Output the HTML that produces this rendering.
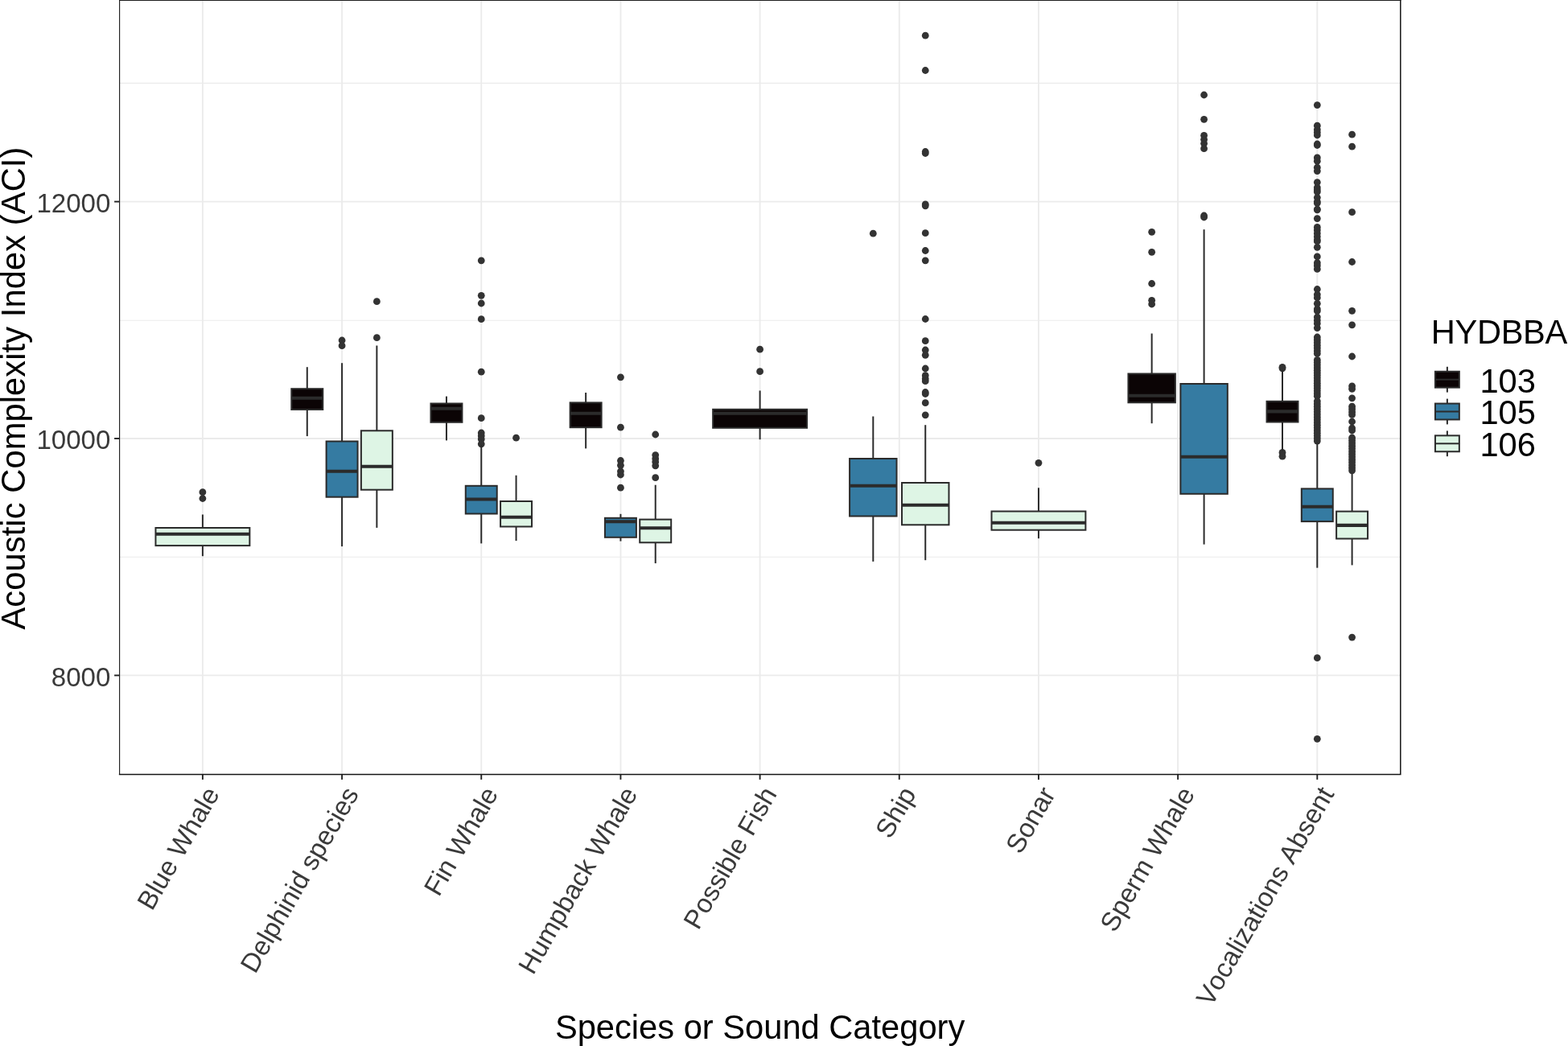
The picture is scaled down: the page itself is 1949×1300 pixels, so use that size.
<!DOCTYPE html>
<html lang="en"><head><meta charset="utf-8">
<title>Acoustic Complexity Index by Species or Sound Category</title>
<style>
html,body{margin:0;padding:0;background:#fff;}
body{width:1949px;height:1300px;overflow:hidden;}
svg{display:block;}
text{font-family:"Liberation Sans",Arial,Helvetica,sans-serif;font-kerning:none;font-variant-ligatures:none;}
.ax{font-size:33.1px;fill:#3A3A3A;}
.ti{font-size:41.67px;fill:#000;}
</style></head><body>
<svg width="1949" height="1300" viewBox="0 0 1949 1300" role="img" aria-label="Boxplot of Acoustic Complexity Index by species or sound category">
<rect x="0" y="0" width="1949" height="1300" fill="#fff"/>
<g stroke="#EBEBEB" fill="none">
<line x1="148" y1="103.4" x2="1741.2" y2="103.4" stroke-width="1.1"/>
<line x1="148" y1="398.3" x2="1741.2" y2="398.3" stroke-width="1.1"/>
<line x1="148" y1="692.2" x2="1741.2" y2="692.2" stroke-width="1.1"/>
<line x1="148" y1="250.6" x2="1741.2" y2="250.6" stroke-width="1.9"/>
<line x1="148" y1="545" x2="1741.2" y2="545" stroke-width="1.9"/>
<line x1="148" y1="839.4" x2="1741.2" y2="839.4" stroke-width="1.9"/>
<line x1="251.9" y1="0" x2="251.9" y2="963" stroke-width="1.9"/>
<line x1="425.08" y1="0" x2="425.08" y2="963" stroke-width="1.9"/>
<line x1="598.25" y1="0" x2="598.25" y2="963" stroke-width="1.9"/>
<line x1="771.43" y1="0" x2="771.43" y2="963" stroke-width="1.9"/>
<line x1="944.6" y1="0" x2="944.6" y2="963" stroke-width="1.9"/>
<line x1="1117.77" y1="0" x2="1117.77" y2="963" stroke-width="1.9"/>
<line x1="1290.95" y1="0" x2="1290.95" y2="963" stroke-width="1.9"/>
<line x1="1464.12" y1="0" x2="1464.12" y2="963" stroke-width="1.9"/>
<line x1="1637.3" y1="0" x2="1637.3" y2="963" stroke-width="1.9"/>
</g>
<g>
<g fill="#333333">
<circle cx="251.9" cy="611.7" r="4.4"/>
<circle cx="251.9" cy="619.5" r="4.4"/>
</g>
<g stroke="#2B2B2B" stroke-width="2" fill="none">
<line x1="251.9" y1="639.5" x2="251.9" y2="656"/>
<line x1="251.9" y1="678.1" x2="251.9" y2="691.2"/>
<rect x="193.46" y="656" width="116.89" height="22.1" fill="#DEF5E5" stroke-linejoin="miter"/>
<line x1="193.46" y1="663.7" x2="310.35" y2="663.7" stroke-width="4.1"/>
</g></g>
<g>
<g stroke="#2B2B2B" stroke-width="2" fill="none">
<line x1="381.78" y1="456.2" x2="381.78" y2="483.2"/>
<line x1="381.78" y1="509" x2="381.78" y2="542.1"/>
<rect x="362.3" y="483.2" width="38.96" height="25.8" fill="#0B0405" stroke-linejoin="miter"/>
<line x1="362.3" y1="494.7" x2="401.27" y2="494.7" stroke-width="4.1"/>
</g></g>
<g>
<g fill="#333333">
<circle cx="425.08" cy="423" r="4.4"/>
<circle cx="425.08" cy="429.7" r="4.4"/>
</g>
<g stroke="#2B2B2B" stroke-width="2" fill="none">
<line x1="425.08" y1="451.2" x2="425.08" y2="548.5"/>
<line x1="425.08" y1="617.7" x2="425.08" y2="679.1"/>
<rect x="405.6" y="548.5" width="38.96" height="69.2" fill="#357BA2" stroke-linejoin="miter"/>
<line x1="405.6" y1="585.8" x2="444.56" y2="585.8" stroke-width="4.1"/>
</g></g>
<g>
<g fill="#333333">
<circle cx="468.37" cy="374.7" r="4.4"/>
<circle cx="468.37" cy="419.7" r="4.4"/>
</g>
<g stroke="#2B2B2B" stroke-width="2" fill="none">
<line x1="468.37" y1="429.5" x2="468.37" y2="535.3"/>
<line x1="468.37" y1="608.7" x2="468.37" y2="655.9"/>
<rect x="448.89" y="535.3" width="38.96" height="73.4" fill="#DEF5E5" stroke-linejoin="miter"/>
<line x1="448.89" y1="579.8" x2="487.85" y2="579.8" stroke-width="4.1"/>
</g></g>
<g>
<g stroke="#2B2B2B" stroke-width="2" fill="none">
<line x1="554.96" y1="492.6" x2="554.96" y2="501.5"/>
<line x1="554.96" y1="524.8" x2="554.96" y2="547.4"/>
<rect x="535.48" y="501.5" width="38.96" height="23.3" fill="#0B0405" stroke-linejoin="miter"/>
<line x1="535.48" y1="507.8" x2="574.44" y2="507.8" stroke-width="4.1"/>
</g></g>
<g>
<g fill="#333333">
<circle cx="598.25" cy="323.8" r="4.4"/>
<circle cx="598.25" cy="367.3" r="4.4"/>
<circle cx="598.25" cy="377" r="4.4"/>
<circle cx="598.25" cy="396.7" r="4.4"/>
<circle cx="598.25" cy="462.2" r="4.4"/>
<circle cx="598.25" cy="519.7" r="4.4"/>
<circle cx="598.25" cy="538" r="4.4"/>
<circle cx="598.25" cy="541.7" r="4.4"/>
<circle cx="598.25" cy="545.8" r="4.4"/>
<circle cx="598.25" cy="551.8" r="4.4"/>
</g>
<g stroke="#2B2B2B" stroke-width="2" fill="none">
<line x1="598.25" y1="553" x2="598.25" y2="603.8"/>
<line x1="598.25" y1="638.5" x2="598.25" y2="675.4"/>
<rect x="578.77" y="603.8" width="38.96" height="34.7" fill="#357BA2" stroke-linejoin="miter"/>
<line x1="578.77" y1="620.5" x2="617.73" y2="620.5" stroke-width="4.1"/>
</g></g>
<g>
<g fill="#333333">
<circle cx="641.55" cy="544.2" r="4.4"/>
</g>
<g stroke="#2B2B2B" stroke-width="2" fill="none">
<line x1="641.55" y1="590.8" x2="641.55" y2="623"/>
<line x1="641.55" y1="654.5" x2="641.55" y2="672.1"/>
<rect x="622.06" y="623" width="38.96" height="31.5" fill="#DEF5E5" stroke-linejoin="miter"/>
<line x1="622.06" y1="642.7" x2="661.03" y2="642.7" stroke-width="4.1"/>
</g></g>
<g>
<g stroke="#2B2B2B" stroke-width="2" fill="none">
<line x1="728.13" y1="488" x2="728.13" y2="500.4"/>
<line x1="728.13" y1="531.2" x2="728.13" y2="557.4"/>
<rect x="708.65" y="500.4" width="38.96" height="30.8" fill="#0B0405" stroke-linejoin="miter"/>
<line x1="708.65" y1="513.7" x2="747.61" y2="513.7" stroke-width="4.1"/>
</g></g>
<g>
<g fill="#333333">
<circle cx="771.43" cy="468.8" r="4.4"/>
<circle cx="771.43" cy="531.2" r="4.4"/>
<circle cx="771.43" cy="572.5" r="4.4"/>
<circle cx="771.43" cy="578.3" r="4.4"/>
<circle cx="771.43" cy="585.8" r="4.4"/>
<circle cx="771.43" cy="590" r="4.4"/>
<circle cx="771.43" cy="606.2" r="4.4"/>
</g>
<g stroke="#2B2B2B" stroke-width="2" fill="none">
<line x1="771.43" y1="638.8" x2="771.43" y2="643.8"/>
<line x1="771.43" y1="667.8" x2="771.43" y2="672.6"/>
<rect x="751.94" y="643.8" width="38.96" height="24" fill="#357BA2" stroke-linejoin="miter"/>
<line x1="751.94" y1="648.3" x2="790.91" y2="648.3" stroke-width="4.1"/>
</g></g>
<g>
<g fill="#333333">
<circle cx="814.72" cy="540" r="4.4"/>
<circle cx="814.72" cy="565.6" r="4.4"/>
<circle cx="814.72" cy="570" r="4.4"/>
<circle cx="814.72" cy="574" r="4.4"/>
<circle cx="814.72" cy="578.8" r="4.4"/>
<circle cx="814.72" cy="593.7" r="4.4"/>
</g>
<g stroke="#2B2B2B" stroke-width="2" fill="none">
<line x1="814.72" y1="602.7" x2="814.72" y2="645.6"/>
<line x1="814.72" y1="674.3" x2="814.72" y2="700.1"/>
<rect x="795.24" y="645.6" width="38.96" height="28.7" fill="#DEF5E5" stroke-linejoin="miter"/>
<line x1="795.24" y1="656.3" x2="834.2" y2="656.3" stroke-width="4.1"/>
</g></g>
<g>
<g fill="#333333">
<circle cx="944.6" cy="434.2" r="4.4"/>
<circle cx="944.6" cy="461.7" r="4.4"/>
</g>
<g stroke="#2B2B2B" stroke-width="2" fill="none">
<line x1="944.6" y1="485.5" x2="944.6" y2="508.8"/>
<line x1="944.6" y1="531.8" x2="944.6" y2="546.2"/>
<rect x="886.15" y="508.8" width="116.89" height="23" fill="#0B0405" stroke-linejoin="miter"/>
<line x1="886.15" y1="513.8" x2="1003.05" y2="513.8" stroke-width="4.1"/>
</g></g>
<g>
<g fill="#333333">
<circle cx="1085.3" cy="290.2" r="4.4"/>
</g>
<g stroke="#2B2B2B" stroke-width="2" fill="none">
<line x1="1085.3" y1="517.5" x2="1085.3" y2="570"/>
<line x1="1085.3" y1="641.5" x2="1085.3" y2="697.9"/>
<rect x="1056.08" y="570" width="58.45" height="71.5" fill="#357BA2" stroke-linejoin="miter"/>
<line x1="1056.08" y1="603.8" x2="1114.53" y2="603.8" stroke-width="4.1"/>
</g></g>
<g>
<g fill="#333333">
<circle cx="1150.24" cy="44.2" r="4.4"/>
<circle cx="1150.24" cy="87.5" r="4.4"/>
<circle cx="1150.24" cy="188.5" r="4.4"/>
<circle cx="1150.24" cy="190.5" r="4.4"/>
<circle cx="1150.24" cy="253.8" r="4.4"/>
<circle cx="1150.24" cy="255.8" r="4.4"/>
<circle cx="1150.24" cy="289.7" r="4.4"/>
<circle cx="1150.24" cy="311.5" r="4.4"/>
<circle cx="1150.24" cy="323.8" r="4.4"/>
<circle cx="1150.24" cy="396.5" r="4.4"/>
<circle cx="1150.24" cy="423.7" r="4.4"/>
<circle cx="1150.24" cy="435" r="4.4"/>
<circle cx="1150.24" cy="441.3" r="4.4"/>
<circle cx="1150.24" cy="458" r="4.4"/>
<circle cx="1150.24" cy="466.7" r="4.4"/>
<circle cx="1150.24" cy="470.8" r="4.4"/>
<circle cx="1150.24" cy="473.7" r="4.4"/>
<circle cx="1150.24" cy="487.5" r="4.4"/>
<circle cx="1150.24" cy="489.5" r="4.4"/>
<circle cx="1150.24" cy="500.7" r="4.4"/>
<circle cx="1150.24" cy="515.8" r="4.4"/>
</g>
<g stroke="#2B2B2B" stroke-width="2" fill="none">
<line x1="1150.24" y1="528.2" x2="1150.24" y2="600"/>
<line x1="1150.24" y1="652.3" x2="1150.24" y2="696.2"/>
<rect x="1121.02" y="600" width="58.45" height="52.3" fill="#DEF5E5" stroke-linejoin="miter"/>
<line x1="1121.02" y1="627.7" x2="1179.47" y2="627.7" stroke-width="4.1"/>
</g></g>
<g>
<g fill="#333333">
<circle cx="1290.95" cy="575.3" r="4.4"/>
</g>
<g stroke="#2B2B2B" stroke-width="2" fill="none">
<line x1="1290.95" y1="606.3" x2="1290.95" y2="635.5"/>
<line x1="1290.95" y1="658.7" x2="1290.95" y2="669.2"/>
<rect x="1232.5" y="635.5" width="116.89" height="23.2" fill="#DEF5E5" stroke-linejoin="miter"/>
<line x1="1232.5" y1="649.7" x2="1349.39" y2="649.7" stroke-width="4.1"/>
</g></g>
<g>
<g fill="#333333">
<circle cx="1431.65" cy="288.3" r="4.4"/>
<circle cx="1431.65" cy="313.3" r="4.4"/>
<circle cx="1431.65" cy="352.5" r="4.4"/>
<circle cx="1431.65" cy="373.3" r="4.4"/>
<circle cx="1431.65" cy="378" r="4.4"/>
</g>
<g stroke="#2B2B2B" stroke-width="2" fill="none">
<line x1="1431.65" y1="414.5" x2="1431.65" y2="464.5"/>
<line x1="1431.65" y1="500.3" x2="1431.65" y2="526.2"/>
<rect x="1402.43" y="464.5" width="58.45" height="35.8" fill="#0B0405" stroke-linejoin="miter"/>
<line x1="1402.43" y1="491.7" x2="1460.87" y2="491.7" stroke-width="4.1"/>
</g></g>
<g>
<g fill="#333333">
<circle cx="1496.59" cy="118" r="4.4"/>
<circle cx="1496.59" cy="148.3" r="4.4"/>
<circle cx="1496.59" cy="168.3" r="4.4"/>
<circle cx="1496.59" cy="173.3" r="4.4"/>
<circle cx="1496.59" cy="178.3" r="4.4"/>
<circle cx="1496.59" cy="184.7" r="4.4"/>
<circle cx="1496.59" cy="268" r="4.4"/>
<circle cx="1496.59" cy="270" r="4.4"/>
</g>
<g stroke="#2B2B2B" stroke-width="2" fill="none">
<line x1="1496.59" y1="285.2" x2="1496.59" y2="477"/>
<line x1="1496.59" y1="613.8" x2="1496.59" y2="676.6"/>
<rect x="1467.37" y="477" width="58.45" height="136.8" fill="#357BA2" stroke-linejoin="miter"/>
<line x1="1467.37" y1="567.7" x2="1525.81" y2="567.7" stroke-width="4.1"/>
</g></g>
<g>
<g fill="#333333">
<circle cx="1594" cy="456.3" r="4.4"/>
<circle cx="1594" cy="457.8" r="4.4"/>
<circle cx="1594" cy="562.4" r="4.4"/>
<circle cx="1594" cy="567.2" r="4.4"/>
</g>
<g stroke="#2B2B2B" stroke-width="2" fill="none">
<line x1="1594" y1="460" x2="1594" y2="498.8"/>
<line x1="1594" y1="524.5" x2="1594" y2="560.4"/>
<rect x="1574.52" y="498.8" width="38.96" height="25.7" fill="#0B0405" stroke-linejoin="miter"/>
<line x1="1574.52" y1="511.4" x2="1613.48" y2="511.4" stroke-width="4.1"/>
</g></g>
<g>
<g fill="#333333">
<circle cx="1637.3" cy="130.6" r="4.4"/>
<circle cx="1637.3" cy="156.2" r="4.4"/>
<circle cx="1637.3" cy="161" r="4.4"/>
<circle cx="1637.3" cy="164.5" r="4.4"/>
<circle cx="1637.3" cy="168" r="4.4"/>
<circle cx="1637.3" cy="179" r="4.4"/>
<circle cx="1637.3" cy="180.5" r="4.4"/>
<circle cx="1637.3" cy="195.9" r="4.4"/>
<circle cx="1637.3" cy="200.2" r="4.4"/>
<circle cx="1637.3" cy="208.2" r="4.4"/>
<circle cx="1637.3" cy="212.6" r="4.4"/>
<circle cx="1637.3" cy="226.6" r="4.4"/>
<circle cx="1637.3" cy="233" r="4.4"/>
<circle cx="1637.3" cy="236" r="4.4"/>
<circle cx="1637.3" cy="238.5" r="4.4"/>
<circle cx="1637.3" cy="245.5" r="4.4"/>
<circle cx="1637.3" cy="250.5" r="4.4"/>
<circle cx="1637.3" cy="252.5" r="4.4"/>
<circle cx="1637.3" cy="260" r="4.4"/>
<circle cx="1637.3" cy="260.8" r="4.4"/>
<circle cx="1637.3" cy="271.6" r="4.4"/>
<circle cx="1637.3" cy="282.4" r="4.4"/>
<circle cx="1637.3" cy="286" r="4.4"/>
<circle cx="1637.3" cy="290" r="4.4"/>
<circle cx="1637.3" cy="294" r="4.4"/>
<circle cx="1637.3" cy="298" r="4.4"/>
<circle cx="1637.3" cy="300" r="4.4"/>
<circle cx="1637.3" cy="307.3" r="4.4"/>
<circle cx="1637.3" cy="318.9" r="4.4"/>
<circle cx="1637.3" cy="326.7" r="4.4"/>
<circle cx="1637.3" cy="330" r="4.4"/>
<circle cx="1637.3" cy="334.4" r="4.4"/>
<circle cx="1637.3" cy="359.5" r="4.4"/>
<circle cx="1637.3" cy="366" r="4.4"/>
<circle cx="1637.3" cy="370" r="4.4"/>
<circle cx="1637.3" cy="377.3" r="4.4"/>
<circle cx="1637.3" cy="384" r="4.4"/>
<circle cx="1637.3" cy="386.5" r="4.4"/>
<circle cx="1637.3" cy="394" r="4.4"/>
<circle cx="1637.3" cy="398" r="4.4"/>
<circle cx="1637.3" cy="402" r="4.4"/>
<circle cx="1637.3" cy="407.6" r="4.4"/>
<circle cx="1637.3" cy="419" r="4.4"/>
<circle cx="1637.3" cy="422.4" r="4.4"/>
<circle cx="1637.3" cy="425.8" r="4.4"/>
<circle cx="1637.3" cy="429.2" r="4.4"/>
<circle cx="1637.3" cy="432.6" r="4.4"/>
<circle cx="1637.3" cy="436" r="4.4"/>
<circle cx="1637.3" cy="439.4" r="4.4"/>
<circle cx="1637.3" cy="447.4" r="4.4"/>
<circle cx="1637.3" cy="450.6" r="4.4"/>
<circle cx="1637.3" cy="453.8" r="4.4"/>
<circle cx="1637.3" cy="457" r="4.4"/>
<circle cx="1637.3" cy="460.2" r="4.4"/>
<circle cx="1637.3" cy="463.4" r="4.4"/>
<circle cx="1637.3" cy="466.6" r="4.4"/>
<circle cx="1637.3" cy="469.8" r="4.4"/>
<circle cx="1637.3" cy="473" r="4.4"/>
<circle cx="1637.3" cy="476.2" r="4.4"/>
<circle cx="1637.3" cy="479.4" r="4.4"/>
<circle cx="1637.3" cy="482.6" r="4.4"/>
<circle cx="1637.3" cy="485.8" r="4.4"/>
<circle cx="1637.3" cy="489" r="4.4"/>
<circle cx="1637.3" cy="492.2" r="4.4"/>
<circle cx="1637.3" cy="498.6" r="4.4"/>
<circle cx="1637.3" cy="501.9" r="4.4"/>
<circle cx="1637.3" cy="505.2" r="4.4"/>
<circle cx="1637.3" cy="508.5" r="4.4"/>
<circle cx="1637.3" cy="511.8" r="4.4"/>
<circle cx="1637.3" cy="515.1" r="4.4"/>
<circle cx="1637.3" cy="518.4" r="4.4"/>
<circle cx="1637.3" cy="521.7" r="4.4"/>
<circle cx="1637.3" cy="525" r="4.4"/>
<circle cx="1637.3" cy="528.3" r="4.4"/>
<circle cx="1637.3" cy="531.6" r="4.4"/>
<circle cx="1637.3" cy="534.9" r="4.4"/>
<circle cx="1637.3" cy="538.2" r="4.4"/>
<circle cx="1637.3" cy="541.5" r="4.4"/>
<circle cx="1637.3" cy="544.8" r="4.4"/>
<circle cx="1637.3" cy="548.1" r="4.4"/>
<circle cx="1637.3" cy="817.7" r="4.4"/>
<circle cx="1637.3" cy="918.3" r="4.4"/>
</g>
<g stroke="#2B2B2B" stroke-width="2" fill="none">
<line x1="1637.3" y1="550" x2="1637.3" y2="607.4"/>
<line x1="1637.3" y1="648.1" x2="1637.3" y2="705.7"/>
<rect x="1617.81" y="607.4" width="38.96" height="40.7" fill="#357BA2" stroke-linejoin="miter"/>
<line x1="1617.81" y1="629.8" x2="1656.78" y2="629.8" stroke-width="4.1"/>
</g></g>
<g>
<g fill="#333333">
<circle cx="1680.59" cy="167.2" r="4.4"/>
<circle cx="1680.59" cy="182.2" r="4.4"/>
<circle cx="1680.59" cy="263.7" r="4.4"/>
<circle cx="1680.59" cy="325.5" r="4.4"/>
<circle cx="1680.59" cy="386.3" r="4.4"/>
<circle cx="1680.59" cy="403.8" r="4.4"/>
<circle cx="1680.59" cy="443" r="4.4"/>
<circle cx="1680.59" cy="479.8" r="4.4"/>
<circle cx="1680.59" cy="483.3" r="4.4"/>
<circle cx="1680.59" cy="494.8" r="4.4"/>
<circle cx="1680.59" cy="505.2" r="4.4"/>
<circle cx="1680.59" cy="508.6" r="4.4"/>
<circle cx="1680.59" cy="512" r="4.4"/>
<circle cx="1680.59" cy="515.4" r="4.4"/>
<circle cx="1680.59" cy="524" r="4.4"/>
<circle cx="1680.59" cy="532" r="4.4"/>
<circle cx="1680.59" cy="535" r="4.4"/>
<circle cx="1680.59" cy="544" r="4.4"/>
<circle cx="1680.59" cy="547.4" r="4.4"/>
<circle cx="1680.59" cy="550.8" r="4.4"/>
<circle cx="1680.59" cy="554.2" r="4.4"/>
<circle cx="1680.59" cy="557.6" r="4.4"/>
<circle cx="1680.59" cy="561" r="4.4"/>
<circle cx="1680.59" cy="564.4" r="4.4"/>
<circle cx="1680.59" cy="567.8" r="4.4"/>
<circle cx="1680.59" cy="571.2" r="4.4"/>
<circle cx="1680.59" cy="574.6" r="4.4"/>
<circle cx="1680.59" cy="578" r="4.4"/>
<circle cx="1680.59" cy="581.4" r="4.4"/>
<circle cx="1680.59" cy="584.8" r="4.4"/>
<circle cx="1680.59" cy="792.1" r="4.4"/>
</g>
<g stroke="#2B2B2B" stroke-width="2" fill="none">
<line x1="1680.59" y1="589" x2="1680.59" y2="635.6"/>
<line x1="1680.59" y1="669.5" x2="1680.59" y2="702.4"/>
<rect x="1661.11" y="635.6" width="38.96" height="33.9" fill="#DEF5E5" stroke-linejoin="miter"/>
<line x1="1661.11" y1="652.9" x2="1700.07" y2="652.9" stroke-width="4.1"/>
</g></g>
<g fill="none" stroke-linecap="square">
<path d="M148.6 962.5 V0.3 H1740.8" stroke="#1E1E1E" stroke-width="1.15"/>
<path d="M148.6 962.5 H1740.8 V0.3" stroke="#141414" stroke-width="1.5"/>
</g>
<g stroke="#222222" stroke-width="1.9">
<line x1="251.9" y1="963" x2="251.9" y2="968.9"/>
<line x1="425.08" y1="963" x2="425.08" y2="968.9"/>
<line x1="598.25" y1="963" x2="598.25" y2="968.9"/>
<line x1="771.43" y1="963" x2="771.43" y2="968.9"/>
<line x1="944.6" y1="963" x2="944.6" y2="968.9"/>
<line x1="1117.77" y1="963" x2="1117.77" y2="968.9"/>
<line x1="1290.95" y1="963" x2="1290.95" y2="968.9"/>
<line x1="1464.12" y1="963" x2="1464.12" y2="968.9"/>
<line x1="1637.3" y1="963" x2="1637.3" y2="968.9"/>
<line x1="142.1" y1="250.6" x2="148" y2="250.6"/>
<line x1="142.1" y1="545" x2="148" y2="545"/>
<line x1="142.1" y1="839.4" x2="148" y2="839.4"/>
</g>
<text class="ax" x="137.4" y="263.7" text-anchor="end">12000</text>
<text class="ax" x="137.4" y="558.1" text-anchor="end">10000</text>
<text class="ax" x="137.4" y="852.5" text-anchor="end">8000</text>
<text class="ax" transform="translate(273.7,986.6) rotate(-60)" text-anchor="end">Blue Whale</text>
<text class="ax" transform="translate(446.88,986.6) rotate(-60)" text-anchor="end">Delphinid species</text>
<text class="ax" transform="translate(620.05,986.6) rotate(-60)" text-anchor="end">Fin Whale</text>
<text class="ax" transform="translate(793.23,986.6) rotate(-60)" text-anchor="end">Humpback Whale</text>
<text class="ax" transform="translate(966.4,986.6) rotate(-60)" text-anchor="end">Possible Fish</text>
<text class="ax" transform="translate(1139.57,986.6) rotate(-60)" text-anchor="end">Ship</text>
<text class="ax" transform="translate(1312.75,986.6) rotate(-60)" text-anchor="end">Sonar</text>
<text class="ax" transform="translate(1485.92,986.6) rotate(-60)" text-anchor="end">Sperm Whale</text>
<text class="ax" transform="translate(1659.1,986.6) rotate(-60)" text-anchor="end">Vocalizations Absent</text>
<text class="ti" x="944.6" y="1290.8" text-anchor="middle">Species or Sound Category</text>
<text class="ti" transform="translate(31,482.6) rotate(-90)" text-anchor="middle" textLength="600" lengthAdjust="spacing">Acoustic Complexity Index (ACI)</text>
<text class="ti" x="1778.8" y="427.2" textLength="169.5" lengthAdjust="spacing">HYDBBA</text>
<g stroke="#2B2B2B" stroke-width="2" fill="none">
<line x1="1798.9" y1="455.8" x2="1798.9" y2="461.75"/>
<line x1="1798.9" y1="481.65" x2="1798.9" y2="487.6"/>
<rect x="1783.95" y="461.75" width="29.9" height="19.9" fill="#0B0405"/>
<line x1="1783.95" y1="471.7" x2="1813.85" y2="471.7"/>
</g>
<text class="ti" x="1839.4" y="487.6">103</text>
<g stroke="#2B2B2B" stroke-width="2" fill="none">
<line x1="1798.9" y1="495.6" x2="1798.9" y2="501.55"/>
<line x1="1798.9" y1="521.45" x2="1798.9" y2="527.4"/>
<rect x="1783.95" y="501.55" width="29.9" height="19.9" fill="#357BA2"/>
<line x1="1783.95" y1="511.5" x2="1813.85" y2="511.5"/>
</g>
<text class="ti" x="1839.4" y="527.4">105</text>
<g stroke="#2B2B2B" stroke-width="2" fill="none">
<line x1="1798.9" y1="535.4" x2="1798.9" y2="541.35"/>
<line x1="1798.9" y1="561.25" x2="1798.9" y2="567.2"/>
<rect x="1783.95" y="541.35" width="29.9" height="19.9" fill="#DEF5E5"/>
<line x1="1783.95" y1="551.3" x2="1813.85" y2="551.3"/>
</g>
<text class="ti" x="1839.4" y="567.2">106</text>
</svg>
</body></html>
